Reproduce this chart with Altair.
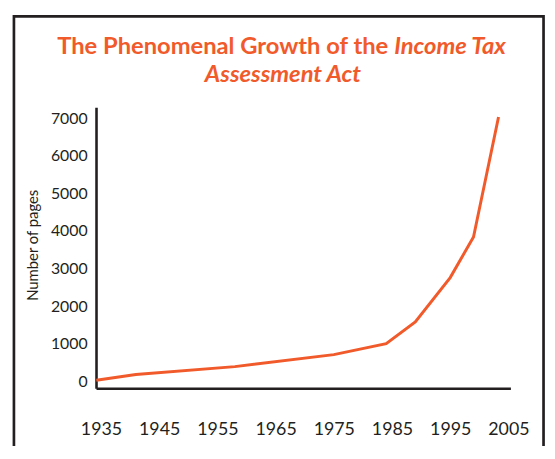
import altair as alt
import pandas as pd

# Data
years = [1934.2, 1941, 1958, 1975, 1984, 1989, 1995, 1999, 2003.3]
pages = [30, 180, 390, 710, 1000, 1580, 2760, 3840, 7030]
x_ticks = [1935, 1945, 1955, 1965, 1975, 1985, 1995, 2005]
y_ticks = [0, 1000, 2000, 3000, 4000, 5000, 6000, 7000]
title_part1 = "The Phenomenal Growth of the"
title_part2 = "Income Tax"
title_line2 = "Assessment Act"
y_title = "Number of pages"

ORANGE = "#F15A2B"
DARK = "#231F20"
FONT = "Lato"

df = pd.DataFrame({"year": years, "pages": pages})

W, H = 419, 284

line = alt.Chart(df).mark_line(color=ORANGE, strokeWidth=3, clip=True).encode(
    x=alt.X(
        "year:Q",
        scale=alt.Scale(domain=[1934.15, 2005.34], nice=False, zero=False),
        axis=alt.Axis(
            values=x_ticks, format="d", title=None, grid=False, ticks=False, tickSize=0,
            domainColor=DARK, domainWidth=2.6, labelColor=DARK, labelFont=FONT,
            labelFontSize=18, labelPadding=33, labelFlush=False, labelOverlap=False,
        ),
    ),
    y=alt.Y(
        "pages:Q",
        scale=alt.Scale(domain=[-184, 7289], nice=False, zero=False),
        axis=alt.Axis(
            values=y_ticks, format="d", title=y_title, grid=False, ticks=False, tickSize=0,
            domainColor=DARK, domainWidth=2.6, labelColor=DARK, labelFont=FONT,
            labelFontSize=16, labelPadding=9, labelFlush=False, labelOverlap=False,
            titleFont=FONT, titleFontSize=15, titleFontWeight="normal", titleColor=DARK,
            titleX=-64, titleY=139, titleAngle=-90, titleAlign="center", titleBaseline="middle",
        ),
    ),
)

frame = alt.Chart().mark_rect(fill="transparent", stroke=DARK, strokeWidth=2.7, clip=False).encode(
    x=alt.value(-83), x2=alt.value(452.5), y=alt.value(-92), y2=alt.value(420)
)

t1 = alt.Chart().mark_text(
    text=title_part1, font=FONT, fontSize=24, fontWeight="bold", color=ORANGE,
    align="right", baseline="alphabetic",
).encode(x=alt.value(295.5), y=alt.value(-54))

t2 = alt.Chart().mark_text(
    text=title_part2, font=FONT, fontSize=24, fontWeight="bold", fontStyle="italic",
    color=ORANGE, align="left", baseline="alphabetic",
).encode(x=alt.value(301.5), y=alt.value(-54))

t3 = alt.Chart().mark_text(
    text=title_line2, font=FONT, fontSize=24, fontWeight="bold", fontStyle="italic",
    color=ORANGE, align="center", baseline="alphabetic",
).encode(x=alt.value(189), y=alt.value(-26))

chart = alt.layer(frame, line, t1, t2, t3).properties(
    width=W, height=H,
    autosize=alt.AutoSizeParams(type="none"),
    padding={"left": 89, "top": 98, "right": 37, "bottom": 56},
).configure(background="white").configure_view(strokeWidth=0, stroke="transparent")

chart.save("out.html", embed_options={"renderer": "svg", "actions": False})
